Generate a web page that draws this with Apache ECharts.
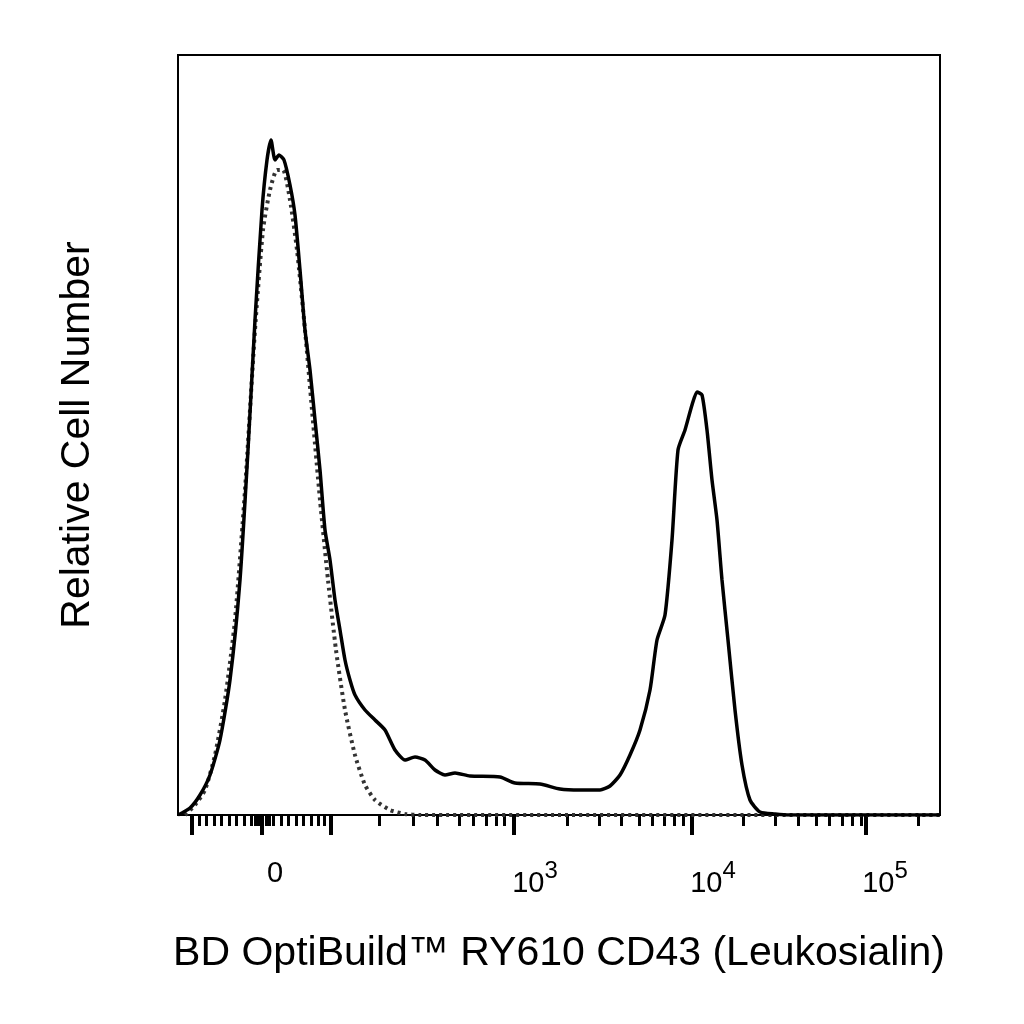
<!DOCTYPE html><html><head><meta charset="utf-8"><script src="https://cdn.jsdelivr.net/npm/echarts@6/dist/echarts.min.js"></script></head><body style="margin:0"><div id="c" style="width:1024px;height:1024px"></div><script>
// x in display channels (biexponential scale, 0..762), y in relative counts (0..760)
const solidX=[0,12,22,32,42,52,62,70,77,84,89,93,97,101,106,112,117,122,127,132,137,142,147,152,157,162,167,172,177,187,197,207,217,227,237,247,257,267,277,292,322,337,362,382,402,422,432,442,452,462,472,479,487,494,500,507,514,519,524,529,534,539,544,550,557,564,572,582,597,612,762];
const solidY=[0,7,20,40,75,135,235,365,495,605,655,675,655,660,655,630,600,545,485,445,395,345,285,255,215,185,155,135,120,105,95,85,65,55,58,55,45,40,42,39,38,32,31,26,25,25,29,40,60,85,125,175,200,275,365,385,410,423,420,385,335,295,235,175,105,50,15,3,1,0,0];
const dotX=[7,17,27,37,47,57,67,77,85,92,99,105,112,119,127,134,142,150,158,167,177,187,197,212,227,242,762];
const dotY=[0,10,25,60,115,195,325,485,585,625,645,645,615,565,485,405,315,235,165,105,60,30,15,5,1,0,0];
const majorTicks=[14,84,153,336,514,688];
const minorTicks=[21,28,36,43,51,58,66,73,77,80,88,91,95,103,110,118,125,133,140,146,201,235,259,281,295,308,318,326,389,421,443,461,474,486,496,505,565,597,620,638,651,664,674,683,740];
const tickLabelPos=[97,357,535,707];
const tickLabels=['0','10{s|3}','10{s|4}','10{s|5}'];
const ch=echarts.init(document.getElementById('c'));
ch.setOption({animation:false,
grid:{left:178,right:84,top:55,bottom:209,show:true,borderColor:'#000',borderWidth:2},
xAxis:[{type:'value',min:0,max:762,splitLine:{show:false},axisLine:{onZero:false,lineStyle:{color:'#000',width:2}},
 axisTick:{show:true,customValues:majorTicks,length:20,lineStyle:{color:'#000',width:4}},
 axisLabel:{customValues:tickLabelPos,margin:44,color:'#000',fontSize:29,fontFamily:'Liberation Sans',
  formatter:v=>tickLabels[tickLabelPos.indexOf(v)],rich:{s:{fontSize:24,verticalAlign:'top',padding:[0,0,26,0],color:'#000',fontFamily:'Liberation Sans'}}},
 name:'BD OptiBuild™ RY610 CD43 (Leukosialin)',nameLocation:'middle',nameGap:118,nameTextStyle:{fontSize:41,color:'#000',fontFamily:'Liberation Sans'}},
 {type:'value',min:0,max:762,position:'bottom',splitLine:{show:false},axisLine:{show:false},
 axisTick:{show:true,customValues:minorTicks,length:11,lineStyle:{color:'#000',width:3}},axisLabel:{show:false}}],
yAxis:{type:'value',min:0,max:760,axisLabel:{show:false},axisTick:{show:false},splitLine:{show:false},axisLine:{show:false},
 name:'Relative Cell Number',nameLocation:'middle',nameGap:80,nameTextStyle:{fontSize:41,color:'#000',fontFamily:'Liberation Sans'}},
series:[
 {type:'line',data:dotX.map((x,i)=>[x,dotY[i]]),showSymbol:false,smooth:0.2,lineStyle:{color:'#333',width:4,type:[3,4]}},
 {type:'line',data:solidX.map((x,i)=>[x,solidY[i]]),showSymbol:false,smooth:0.2,lineStyle:{color:'#000',width:3.5}}
]});
</script></body></html>
